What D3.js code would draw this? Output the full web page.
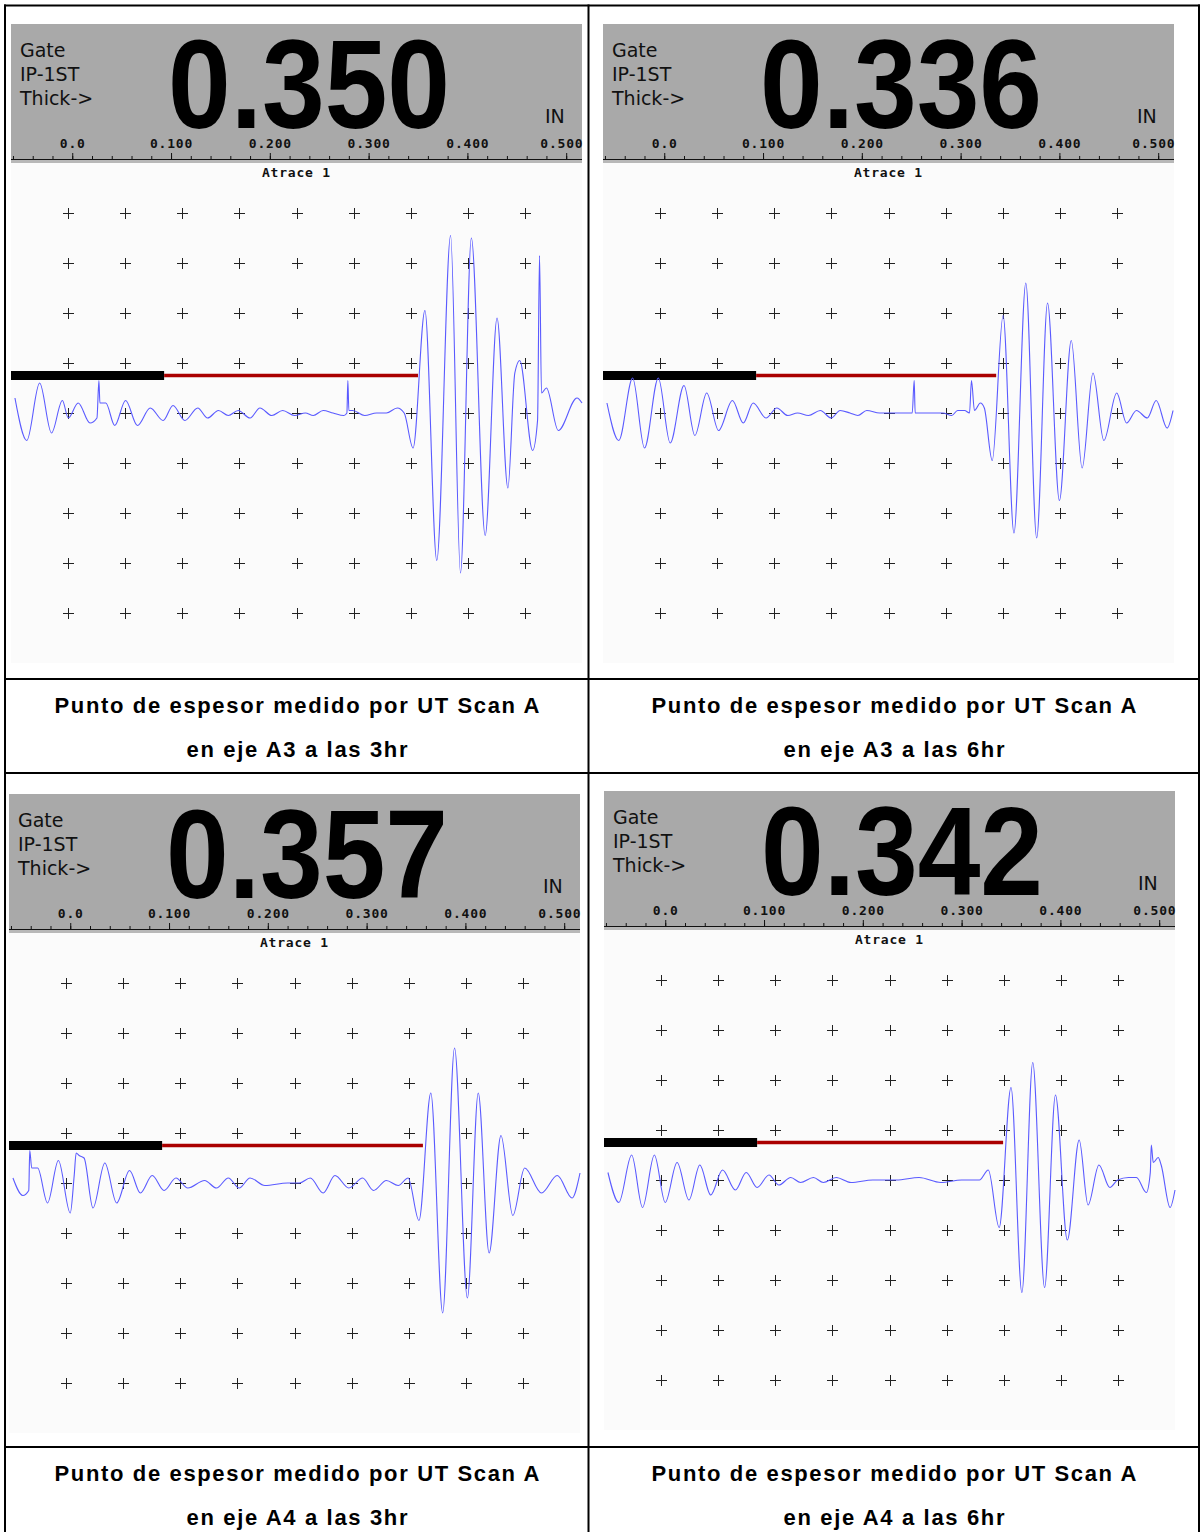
<!DOCTYPE html>
<html><head><meta charset="utf-8">
<script src="https://cdn.jsdelivr.net/npm/d3@7"></script>
<style>body{margin:0;background:#fff}</style>
</head><body>
<svg id="c" width="1204" height="1532"></svg>
<script>
// ---------------- DATA ----------------
const readingLabels = ["0.350", "0.336", "0.357", "0.342"];
const readings = [0.350, 0.336, 0.357, 0.342];           // IN, gate end (thickness)
const captionLine1 = ["Punto de espesor medido por UT Scan A", "Punto de espesor medido por UT Scan A",
                      "Punto de espesor medido por UT Scan A", "Punto de espesor medido por UT Scan A"];
const captionLine2 = ["en eje A3 a las 3hr", "en eje A3 a las 6hr", "en eje A4 a las 3hr", "en eje A4 a las 6hr"];
const scaleTicks = [0, 0.1, 0.2, 0.3, 0.4, 0.5];
const scaleLabels = ["0.0", "0.100", "0.200", "0.300", "0.400", "0.500"];
const scaleDomain = [-0.062, 0.516];   // IN shown across the screen
const gateStart = 0.093;               // IN
const gateLevel = 15;                  // % amplitude
const headerTexts = ["Gate", "IP-1ST", "Thick->"];
const unitLabel = "IN";
const traceLabel = "Atrace 1";

// A-scan traces: [depth IN, amplitude %]
const waveA3_3hr = [[-0.058,6],[-0.046,-11],[-0.033,12],[-0.021,-8],[-0.010,5],[-0.004,-2],[0.006,4],[0.018,-4],[0.025,-2],[0.027,13],[0.028,4],[0.034,4],[0.043,-5],[0.054,5],[0.066,-5],[0.079,2],[0.092,-3],[0.102,3],[0.114,-3],[0.127,2],[0.137,-2],[0.148,1],[0.158,-1],[0.168,1],[0.180,-2],[0.190,2],[0.202,-1],[0.213,1],[0.225,-1],[0.236,0],[0.244,-1],[0.254,1],[0.264,0],[0.275,-1],[0.278,0],[0.279,13],[0.280,1],[0.284,1],[0.296,-1],[0.308,0],[0.318,0],[0.329,2],[0.336,0],[0.345,-14],[0.357,41],[0.369,-59],[0.383,71],[0.393,-64],[0.404,70],[0.418,-49],[0.430,38],[0.441,-30],[0.448,16],[0.453,21],[0.466,-15],[0.471,-3],[0.473,63],[0.475,8],[0.480,10],[0.492,-7],[0.511,6],[0.516,4]];
const waveA3_6hr = [[-0.058,4],[-0.046,-11],[-0.032,14],[-0.020,-14],[-0.006,14],[0.006,-12],[0.020,11],[0.031,-9],[0.043,8],[0.055,-7],[0.069,5],[0.080,-4],[0.090,4],[0.103,-2],[0.114,2],[0.125,-1],[0.135,0],[0.146,-1],[0.158,1],[0.169,-2],[0.178,1],[0.188,0],[0.196,-1],[0.205,1],[0.218,0],[0.239,0],[0.251,0],[0.253,13],[0.254,0],[0.282,0],[0.291,-1],[0.297,1],[0.304,1],[0.309,0],[0.311,13],[0.314,1],[0.320,4],[0.324,2],[0.332,-19],[0.343,39],[0.354,-48],[0.366,52],[0.377,-50],[0.388,44],[0.400,-35],[0.412,29],[0.423,-22],[0.434,16],[0.445,-11],[0.458,8],[0.468,-4],[0.478,1],[0.489,-2],[0.498,5],[0.509,-6],[0.515,1]];
const waveA4_3hr = [[-0.058,2],[-0.048,-5],[-0.042,-3],[-0.041,13],[-0.039,6],[-0.033,6],[-0.023,-8],[-0.012,9],[0.000,-12],[0.004,3],[0.006,12],[0.009,11],[0.014,10],[0.023,-10],[0.035,8],[0.047,-8],[0.060,5],[0.071,-4],[0.083,3],[0.095,-3],[0.107,2],[0.119,-2],[0.136,1],[0.148,-2],[0.160,2],[0.171,-2],[0.182,2],[0.197,-1],[0.220,0],[0.232,0],[0.243,2],[0.256,-4],[0.268,3],[0.282,-2],[0.296,2],[0.307,-3],[0.320,1],[0.332,-1],[0.342,2],[0.353,-15],[0.365,36],[0.377,-52],[0.389,54],[0.402,-46],[0.413,36],[0.424,-28],[0.436,19],[0.448,-13],[0.460,6],[0.477,-4],[0.493,3],[0.508,-6],[0.516,4]];
const waveA4_6hr = [[-0.058,3],[-0.047,-9],[-0.034,10],[-0.023,-11],[-0.011,10],[0.000,-9],[0.012,7],[0.024,-8],[0.035,6],[0.046,-6],[0.058,4],[0.071,-4],[0.082,3],[0.093,-3],[0.105,2],[0.115,-2],[0.127,1],[0.137,-1],[0.150,1],[0.160,-1],[0.173,1],[0.188,-1],[0.210,0],[0.234,0],[0.257,1],[0.279,-1],[0.300,0],[0.318,0],[0.327,4],[0.338,-19],[0.350,37],[0.361,-45],[0.372,47],[0.384,-43],[0.395,34],[0.407,-24],[0.419,16],[0.428,-10],[0.439,6],[0.450,-3],[0.458,0],[0.469,1],[0.477,1],[0.487,-5],[0.491,3],[0.492,14],[0.494,7],[0.499,9],[0.502,6],[0.511,-11],[0.516,-4]];
const waves = [waveA3_3hr, waveA3_6hr, waveA4_3hr, waveA4_6hr];

// ---------------- LAYOUT ----------------
const PW = 571, PH = 500, HH = 139;
const panelPos = [{x0: 11, top: 24}, {x0: 603, top: 24}, {x0: 9, top: 794}, {x0: 604, top: 791}];
const colCenter = [297, 894];
const capBase = [[713, 757], [1481, 1525]];
const vLines = [5, 588.5, 1199];
const hLines = [5.5, 679, 773, 1447];

const svg = d3.select("#c");
const monoFont = "'DejaVu Sans Mono', 'Liberation Mono', monospace";

panelPos.forEach((p, k) => {
  const g = svg.append("g");
  const y0 = p.top + HH;
  const xs = d3.scaleLinear().domain(scaleDomain).range([p.x0, p.x0 + PW]);
  const ys = d3.scaleLinear().domain([-100, 100]).range([y0 + PH, y0]);
  const xDiv = d3.scaleLinear().domain([0, 10]).range([p.x0, p.x0 + PW]);
  const yDiv = d3.scaleLinear().domain([0, 10]).range([y0, y0 + PH]);

  // header
  g.append("rect").attr("x", p.x0).attr("y", p.top).attr("width", PW).attr("height", HH).attr("fill", "#a9a9a9");
  g.append("rect").attr("x", p.x0).attr("y", p.top + 136).attr("width", PW).attr("height", 3).attr("fill", "#b8b8b8");
  // plot bg
  g.append("rect").attr("x", p.x0).attr("y", y0).attr("width", PW).attr("height", PH).attr("fill", "#fbfbfb");

  headerTexts.forEach((t, i) => {
    g.append("text").attr("x", p.x0 + 9).attr("y", p.top + 33 + i * 24)
      .attr("font-family", "'DejaVu Sans', sans-serif").attr("font-size", 19).attr("fill", "#111").text(t);
  });
  g.append("text").attr("x", p.x0 + 157).attr("y", p.top + 104)
    .attr("font-family", "'Liberation Sans', Arial, sans-serif").attr("font-weight", "bold")
    .attr("font-size", 127).attr("textLength", 282).attr("lengthAdjust", "spacingAndGlyphs")
    .attr("fill", "#000").text(readingLabels[k]);
  g.append("text").attr("x", p.x0 + 534).attr("y", p.top + 99)
    .attr("font-family", "'DejaVu Sans', sans-serif").attr("font-size", 19).attr("fill", "#111").text(unitLabel);

  // scale axis
  const minorTicks = d3.range(-3, 26).map(i => +(i * 0.02).toFixed(2));
  const axY = p.top + 135;
  const minor = g.append("g").attr("transform", `translate(0,${axY})`)
    .call(d3.axisTop(xs).tickValues(minorTicks).tickSize(3).tickSizeOuter(0).tickFormat(""));
  minor.select(".domain").attr("stroke", "#111").attr("d", `M${p.x0},0.5H${p.x0 + PW}`);
  minor.selectAll("line").attr("stroke", "#111");
  const major = g.append("g").attr("transform", `translate(0,${axY})`)
    .call(d3.axisTop(xs).tickValues(scaleTicks).tickSize(6).tickSizeOuter(0).tickPadding(5)
      .tickFormat((d, i) => scaleLabels[i]));
  major.select(".domain").remove();
  major.selectAll("line").attr("stroke", "#111");
  major.selectAll("text").attr("font-family", monoFont).attr("font-weight", "bold")
    .attr("font-size", 13).attr("letter-spacing", "0.8px").attr("fill", "#111");
  // last label kept inside the display
  major.selectAll("text").filter((d, i) => i === scaleTicks.length - 1)
    .attr("text-anchor", "end").attr("x", p.x0 + PW - xs(scaleTicks[scaleTicks.length - 1]) + 1);

  g.append("text").attr("x", p.x0 + PW / 2).attr("y", p.top + 153).attr("text-anchor", "middle")
    .attr("font-family", monoFont).attr("font-weight", "bold").attr("font-size", 13)
    .attr("letter-spacing", "0.8px").attr("fill", "#111").text(traceLabel);

  // grid crosses
  const divs = d3.range(1, 10);
  const crosses = [];
  divs.forEach(i => divs.forEach(j => crosses.push([i, j])));
  g.append("path").attr("stroke", "#222").attr("stroke-width", 1).attr("fill", "none")
    .attr("d", crosses.map(([i, j]) => {
      const cx = Math.round(xDiv(i)) + 0.5, cy = Math.round(yDiv(j)) + 0.5;
      return `M${cx - 5.5},${cy}h11M${cx},${cy - 5.5}v11`;
    }).join(""));

  // gate
  const gy = ys(gateLevel);
  g.append("rect").attr("x", xs(scaleDomain[0])).attr("y", gy - 4.5)
    .attr("width", xs(gateStart) - xs(scaleDomain[0])).attr("height", 9).attr("fill", "#000");
  g.append("line").attr("x1", xs(gateStart)).attr("x2", xs(readings[k])).attr("y1", gy).attr("y2", gy)
    .attr("stroke", "#aa0000").attr("stroke-width", 3.5);

  // waveform
  const line = d3.line().x(d => xs(d[0])).y(d => ys(d[1])).curve(d3.curveMonotoneX);
  g.append("path").attr("d", line(waves[k])).attr("fill", "none")
    .attr("stroke", "#5a5aff").attr("stroke-width", 1.1);

  // captions
  const col = k % 2, row = Math.floor(k / 2);
  [captionLine1[k], captionLine2[k]].forEach((t, i) => {
    svg.append("text").attr("x", colCenter[col]).attr("y", capBase[row][i]).attr("text-anchor", "middle")
      .attr("font-family", "'Liberation Sans', Arial, sans-serif").attr("font-weight", "bold")
      .attr("font-size", 22).attr("fill", "#000")
      .attr("textLength", i === 0 ? 485 : 221).attr("lengthAdjust", "spacing").text(t);
  });
});

// table borders
vLines.forEach(x => svg.append("line").attr("x1", x).attr("x2", x).attr("y1", 4.5).attr("y2", 1532)
  .attr("stroke", "#000").attr("stroke-width", 2));
hLines.forEach(y => svg.append("line").attr("x1", 4).attr("x2", 1200).attr("y1", y).attr("y2", y)
  .attr("stroke", "#000").attr("stroke-width", 2));
</script>
</body></html>
